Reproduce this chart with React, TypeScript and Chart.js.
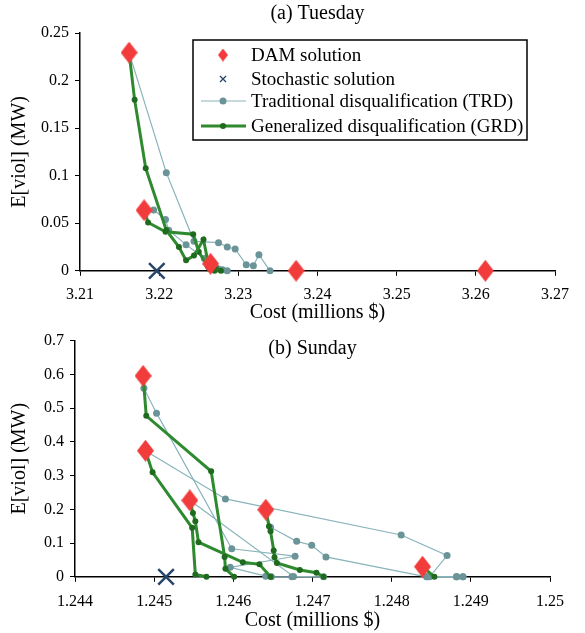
import React, { useEffect, useRef } from 'react';
import { Chart, registerables } from 'chart.js';
Chart.register(...registerables);

const FONT = "'Liberation Serif', 'Times New Roman', serif";

// ---------- (a) Tuesday ----------
const tueXTicks = [3.21, 3.22, 3.23, 3.24, 3.25, 3.26, 3.27];
const tueXLabels = ['3.21', '3.22', '3.23', '3.24', '3.25', '3.26', '3.27'];
const tueYTicks = [0, 0.05, 0.1, 0.15, 0.2, 0.25];
const tueYLabels = ['0', '0.05', '0.1', '0.15', '0.2', '0.25'];
const tueDAM = [[3.2162, 0.2294], [3.2181, 0.0637], [3.2265, 0.0074], [3.2373, 0], [3.2612, 0]];
const tueStoch = [[3.2197, 0]];
const tueTRD1 = [[3.2162, 0.2294], [3.2209, 0.1032], [3.2244, 0.031], [3.2275, 0.0296], [3.2286, 0.025], [3.2296, 0.023], [3.231, 0.0063], [3.2319, 0.0053], [3.2326, 0.017], [3.234, 0]];
const tueTRD2 = [[3.2181, 0.0637], [3.2193, 0.064], [3.2208, 0.054], [3.2212, 0.0426], [3.2234, 0.0275], [3.2257, 0.013], [3.2275, 0.002], [3.2286, 0]];
const tueTRD3 = [[3.2265, 0.0074], [3.2272, 0.003], [3.228, 0.001]];
const tueGRD1 = [[3.2162, 0.2294], [3.2169, 0.1797], [3.2183, 0.1078], [3.2209, 0.0426], [3.2225, 0.025], [3.2234, 0.011], [3.2244, 0.016], [3.2256, 0.0328], [3.2262, 0.008], [3.227, 0.003], [3.2278, 0]];
const tueGRD2 = [[3.2181, 0.0637], [3.2186, 0.0507], [3.2208, 0.041], [3.2243, 0.0384], [3.225, 0.02], [3.2262, 0.004], [3.227, 0]];
const tueGRD3 = [[3.2265, 0.0074], [3.2272, 0.002]];

// ---------- (b) Sunday ----------
const sunXTicks = [1.244, 1.245, 1.246, 1.247, 1.248, 1.249, 1.25];
const sunXLabels = ['1.244', '1.245', '1.246', '1.247', '1.248', '1.249', '1.25'];
const sunYTicks = [0, 0.1, 0.2, 0.3, 0.4, 0.5, 0.6, 0.7];
const sunYLabels = ['0', '0.1', '0.2', '0.3', '0.4', '0.5', '0.6', '0.7'];
const sunDAM = [[1.24486, 0.5956], [1.24489, 0.3737], [1.24545, 0.2266], [1.24641, 0.199], [1.24839, 0.03]];
const sunStoch = [[1.24515, 0]];
const sunTRD1 = [[1.24486, 0.5956], [1.24487, 0.559], [1.24503, 0.485], [1.24598, 0.083], [1.24678, 0.061], [1.24596, 0.028], [1.24641, 0.002], [1.24648, 0], [1.24674, 0]];
const sunTRD2 = [[1.24489, 0.3737], [1.2459, 0.2308], [1.24812, 0.124], [1.2487, 0.063], [1.24848, 0], [1.24882, 0], [1.2489, 0]];
const sunTRD3 = [[1.24545, 0.2266], [1.24676, 0.001], [1.24714, 0]];
const sunTRD4 = [[1.24641, 0.199], [1.24647, 0.147], [1.2468, 0.105], [1.24699, 0.0935], [1.24717, 0.059], [1.24844, 0], [1.24882, 0], [1.2489, 0]];
const sunTRD5 = [[1.24839, 0.03], [1.24845, 0], [1.24882, 0]];
const sunGRD1 = [[1.24486, 0.5956], [1.2449, 0.477], [1.24572, 0.3125], [1.24589, 0.059], [1.2459, 0.024], [1.24601, 0]];
const sunGRD2 = [[1.24489, 0.3737], [1.24498, 0.3095], [1.24548, 0.145], [1.24552, 0.007], [1.24566, 0]];
const sunGRD3 = [[1.24545, 0.2266], [1.24549, 0.189], [1.24552, 0.1645], [1.24556, 0.1025], [1.24612, 0.043], [1.24633, 0.037], [1.24647, 0]];
const sunGRD4 = [[1.24641, 0.199], [1.24645, 0.15], [1.24647, 0.135], [1.24651, 0.078], [1.24652, 0.058], [1.24655, 0.041], [1.24684, 0.02], [1.24705, 0.012], [1.24714, 0]];
const sunGRD5 = [[1.24839, 0.03], [1.24854, 0]];

const RED = '#f23c3c';
const NAVY = '#27446b';
const TRD_LINE = '#88b4ba';
const TRD_PT = '#6b9499';
const GRD_LINE = '#2f8a2f';
const GRD_PT = '#1f6a1f';

function makeDiamond(w: number, h: number, color: string) {
  const c = document.createElement('canvas');
  c.width = w;
  c.height = h;
  const g = c.getContext('2d')!;
  g.fillStyle = color;
  g.beginPath();
  g.moveTo(w / 2, 0);
  g.lineTo(w, h / 2);
  g.lineTo(w / 2, h);
  g.lineTo(0, h / 2);
  g.closePath();
  g.fill();
  return c;
}

const pts = (arr: number[][]) => arr.map(([x, y]) => ({ x, y }));

interface Spec {
  title: string;
  titleOffset: number;
  xTicks: number[];
  xLabels: string[];
  yTicks: number[];
  yLabels: string[];
  dam: number[][];
  stoch: number[][];
  trd: number[][][];
  grd: number[][][];
  legend: boolean;
  yWidth: number;
  xTickPad: number;
  xTitlePadTop: number;
  padding: { left: number; right: number; top: number; bottom: number };
}

function buildChart(canvas: HTMLCanvasElement, s: Spec) {
  const diamond = makeDiamond(17, 22, RED);
  const datasets: any[] = [
    {
      label: 'DAM solution', data: pts(s.dam), showLine: false, pointStyle: diamond,
      pointRadius: 10, pointHoverRadius: 10, clip: false,
    },
    {
      label: 'Stochastic solution', data: pts(s.stoch), showLine: false, pointStyle: 'crossRot',
      pointRadius: 11, borderColor: NAVY, pointBorderColor: NAVY, pointBorderWidth: 2.5, clip: false,
    },
    ...s.grd.map((g) => ({
      label: 'GRD', data: pts(g), showLine: true, borderColor: GRD_LINE, borderWidth: 3,
      pointRadius: 3, pointBackgroundColor: GRD_PT, pointBorderColor: GRD_PT, pointBorderWidth: 0, clip: false,
    })),
    ...s.trd.map((g) => ({
      label: 'TRD', data: pts(g), showLine: true, borderColor: TRD_LINE, borderWidth: 1.2,
      pointRadius: 3.5, pointBackgroundColor: TRD_PT, pointBorderColor: TRD_PT, pointBorderWidth: 0, clip: false,
    })),
  ];

  const titlePlugin = {
    id: 'innerTitle',
    afterDraw(chart: any) {
      const { ctx, chartArea } = chart;
      ctx.save();
      ctx.font = `20px ${FONT}`;
      ctx.fillStyle = '#000';
      ctx.textAlign = 'center';
      ctx.textBaseline = 'middle';
      ctx.fillText(s.title, (chartArea.left + chartArea.right) / 2, chartArea.top + s.titleOffset);
      ctx.restore();
    },
  };

  const legendPlugin = {
    id: 'boxLegend',
    afterDraw(chart: any) {
      if (!s.legend) return;
      const { ctx, chartArea } = chart;
      const left = chartArea.right - 362;
      const top = chartArea.top + 7;
      const w = 334;
      const h = 100;
      ctx.save();
      ctx.fillStyle = '#fff';
      ctx.fillRect(left, top, w, h);
      ctx.strokeStyle = '#000';
      ctx.lineWidth = 1.5;
      ctx.strokeRect(left, top, w, h);
      const sx = left + 30;
      const rows = [top + 15, top + 39, top + 61, top + 86];
      const d = makeDiamond(10, 13, RED);
      ctx.drawImage(d, sx - 5, rows[0] - 6.5);
      ctx.strokeStyle = NAVY;
      ctx.lineWidth = 1.3;
      ctx.beginPath();
      ctx.moveTo(sx - 3, rows[1] - 3);
      ctx.lineTo(sx + 3, rows[1] + 3);
      ctx.moveTo(sx + 3, rows[1] - 3);
      ctx.lineTo(sx - 3, rows[1] + 3);
      ctx.stroke();
      ctx.strokeStyle = TRD_LINE;
      ctx.lineWidth = 1.2;
      ctx.beginPath();
      ctx.moveTo(sx - 22, rows[2]);
      ctx.lineTo(sx + 23, rows[2]);
      ctx.stroke();
      ctx.fillStyle = TRD_PT;
      ctx.beginPath();
      ctx.arc(sx, rows[2], 3.5, 0, Math.PI * 2);
      ctx.fill();
      ctx.strokeStyle = GRD_LINE;
      ctx.lineWidth = 3;
      ctx.beginPath();
      ctx.moveTo(sx - 22, rows[3]);
      ctx.lineTo(sx + 23, rows[3]);
      ctx.stroke();
      ctx.fillStyle = GRD_PT;
      ctx.beginPath();
      ctx.arc(sx, rows[3], 3, 0, Math.PI * 2);
      ctx.fill();
      ctx.fillStyle = '#000';
      ctx.font = `19px ${FONT}`;
      ctx.textAlign = 'left';
      ctx.textBaseline = 'middle';
      const texts = ['DAM solution', 'Stochastic solution', 'Traditional disqualification (TRD)', 'Generalized disqualification (GRD)'];
      texts.forEach((t, i) => ctx.fillText(t, left + 58, rows[i] + 1));
      ctx.restore();
    },
  };

  return new Chart(canvas, {
    type: 'scatter',
    data: { datasets },
    plugins: [titlePlugin, legendPlugin],
    options: {
      animation: false,
      responsive: true,
      maintainAspectRatio: false,
      layout: { padding: s.padding },
      plugins: { legend: { display: false }, tooltip: { enabled: false }, title: { display: false } },
      scales: {
        x: {
          type: 'linear',
          min: s.xTicks[0],
          max: s.xTicks[s.xTicks.length - 1],
          afterBuildTicks: (ax: any) => { ax.ticks = s.xTicks.map((v) => ({ value: v })); },
          ticks: {
            callback: (_v: any, i: number) => s.xLabels[i],
            font: { family: FONT, size: 16 },
            color: '#000',
            maxRotation: 0,
            autoSkip: false,
            padding: s.xTickPad,
          },
          grid: { drawOnChartArea: false, drawTicks: true, tickLength: 5, color: '#000', lineWidth: 1 },
          border: { color: '#000', width: 1.5 },
          title: { display: true, text: 'Cost (millions $)', font: { family: FONT, size: 20 }, color: '#000', padding: { top: s.xTitlePadTop, bottom: 0 } },
        },
        y: {
          type: 'linear',
          min: s.yTicks[0],
          max: s.yTicks[s.yTicks.length - 1],
          afterBuildTicks: (ax: any) => { ax.ticks = s.yTicks.map((v) => ({ value: v })); },
          afterFit: (ax: any) => { ax.width = s.yWidth; },
          ticks: {
            callback: (_v: any, i: number) => s.yLabels[i],
            font: { family: FONT, size: 16 },
            color: '#000',
            autoSkip: false,
            padding: 6,
          },
          grid: { drawOnChartArea: false, drawTicks: true, tickLength: 5, color: '#000', lineWidth: 1 },
          border: { color: '#000', width: 1.5 },
          title: { display: true, text: 'E[viol] (MW)', font: { family: FONT, size: 20 }, color: '#000', padding: { top: 0, bottom: 0 } },
        },
      },
    } as any,
  });
}

function Panel({ spec, top, height }: { spec: Spec; top: number; height: number }) {
  const ref = useRef<HTMLCanvasElement>(null);
  useEffect(() => {
    const c = buildChart(ref.current!, spec);
    return () => c.destroy();
  }, []);
  return (
    <div style={{ position: 'absolute', left: 0, top, width: 585, height }}>
      <canvas ref={ref} />
    </div>
  );
}

const tueSpec: Spec = {
  title: '(a) Tuesday', titleOffset: -19,
  xTicks: tueXTicks, xLabels: tueXLabels, yTicks: tueYTicks, yLabels: tueYLabels,
  dam: tueDAM, stoch: tueStoch, trd: [tueTRD1, tueTRD2, tueTRD3], grd: [tueGRD1, tueGRD2, tueGRD3],
  legend: true, yWidth: 72, xTickPad: 9, xTitlePadTop: -12,
  padding: { left: 8, right: 30, top: 33, bottom: 0 },
};

const sunSpec: Spec = {
  title: '(b) Sunday', titleOffset: 8,
  xTicks: sunXTicks, xLabels: sunXLabels, yTicks: sunYTicks, yLabels: sunYLabels,
  dam: sunDAM, stoch: sunStoch, trd: [sunTRD1, sunTRD2, sunTRD3, sunTRD4, sunTRD5],
  grd: [sunGRD1, sunGRD2, sunGRD3, sunGRD4, sunGRD5],
  legend: false, yWidth: 67, xTickPad: 10, xTitlePadTop: -12,
  padding: { left: 8, right: 35, top: 15, bottom: 0 },
};

export default function App() {
  return (
    <div style={{ position: 'absolute', left: 0, top: 0, width: 585, height: 633, background: '#fff' }}>
      <Panel spec={tueSpec} top={0} height={325} />
      <Panel spec={sunSpec} top={325} height={308} />
    </div>
  );
}
